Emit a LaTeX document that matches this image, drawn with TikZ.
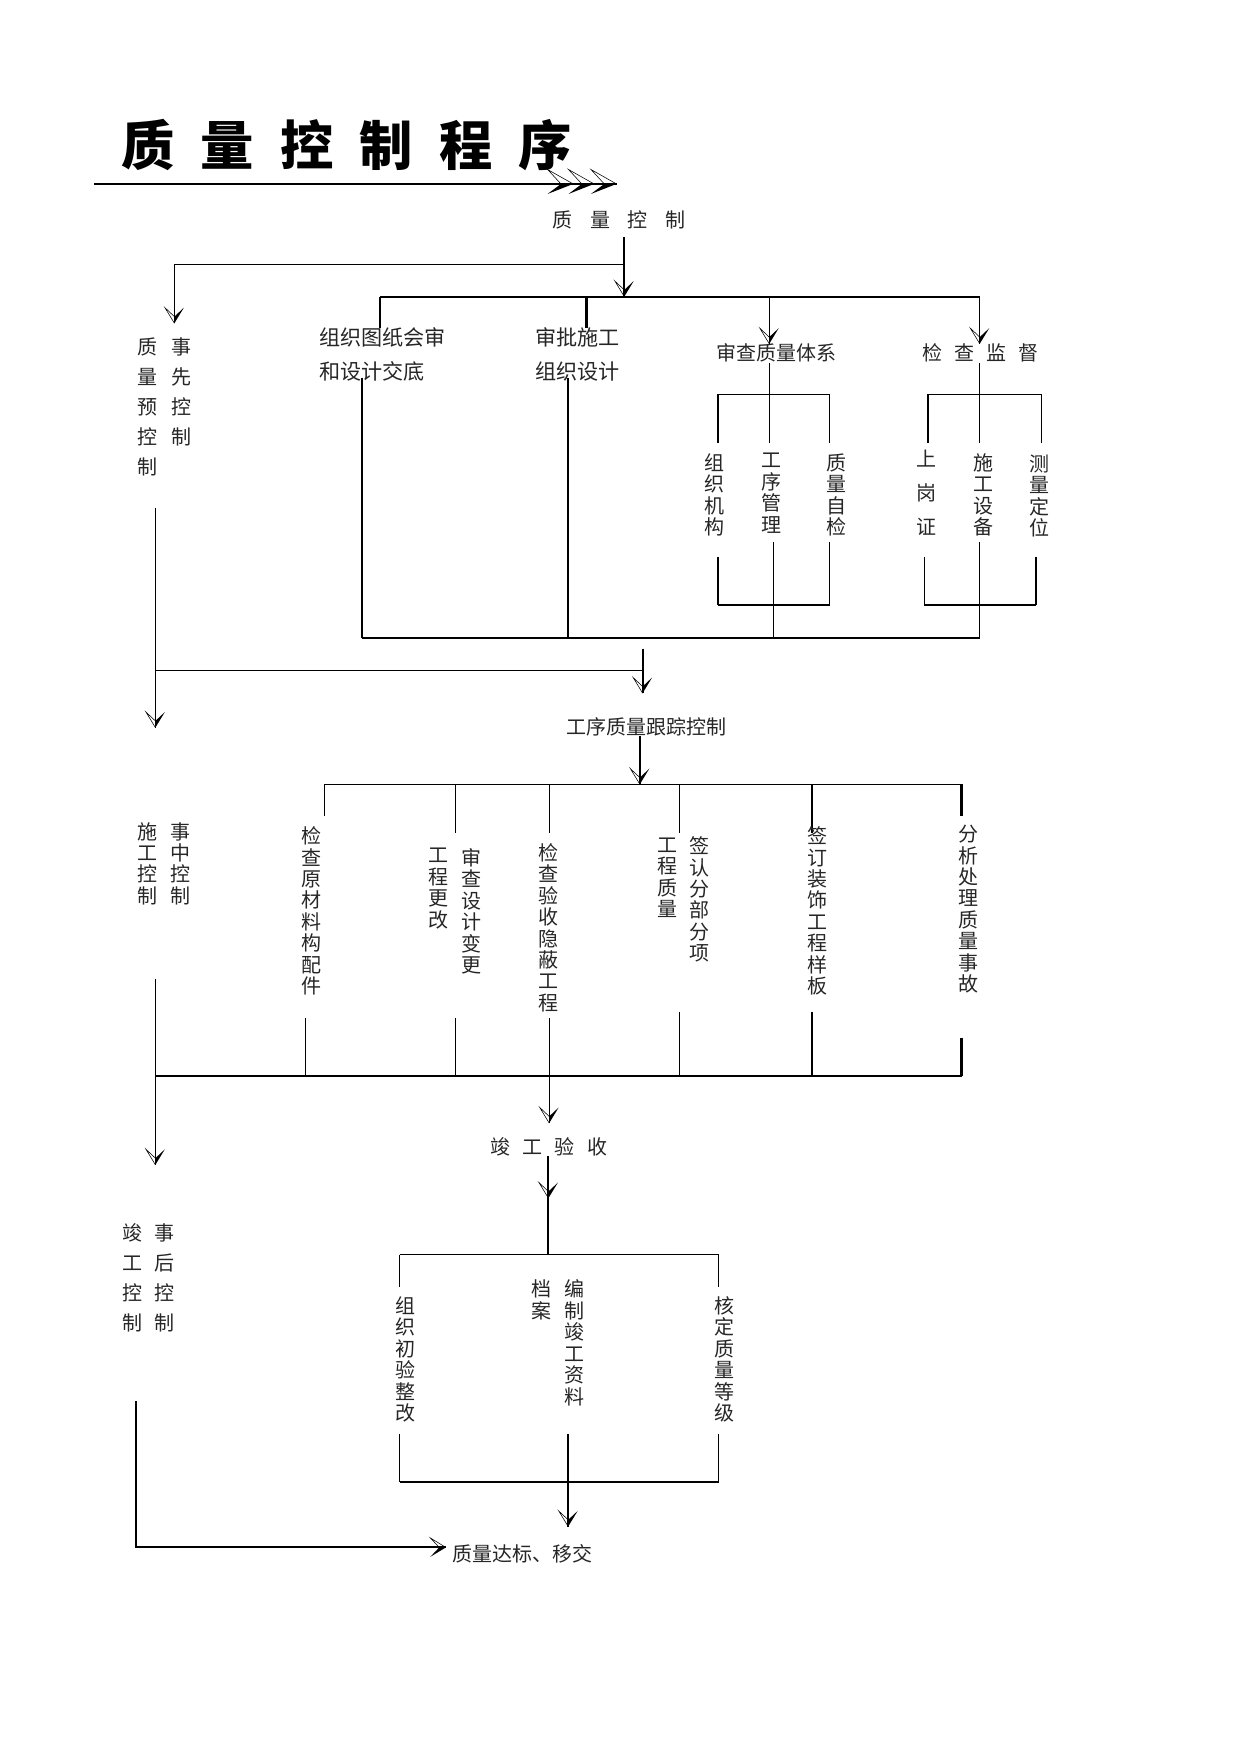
\documentclass[tikz,border=0pt]{standalone}
\usepackage{fontspec}
\usetikzlibrary{decorations.markings}
\newfontfamily\song{Noto Sans CJK SC}
\newfontfamily\kai{Noto Sans CJK SC}
\newcommand\ahDown{\fill (0pt,0pt)--(-14pt,8.5pt)--(-6pt,0pt)--cycle;
      \draw[line width=0.5pt,line join=miter] (0pt,0pt)--(-14pt,-8.5pt)--(-6pt,0pt);}
\newcommand\ahRight{\fill (0pt,0pt)--(-14pt,-8.5pt)--(-6pt,0pt)--cycle;
      \draw[line width=0.5pt,line join=miter] (0pt,0pt)--(-14pt,8.5pt)--(-6pt,0pt);}
\newcommand\ahBig{\fill (0pt,0pt)--(-23pt,-9pt)--(-11pt,0pt)--cycle;
      \draw[line width=0.5pt,line join=miter] (0pt,0pt)--(-23pt,13pt)--(-11pt,0pt);}
\tikzset{
  lnA/.style={line width=1.1pt},
  lnB/.style={line width=1.9pt},
  harr/.style={postaction={decorate,decoration={markings,mark=at position 1 with {\ahDown}}}},
  harrR/.style={postaction={decorate,decoration={markings,mark=at position 1 with {\ahRight}}}},
  titlearr/.style={postaction={decorate,decoration={markings,
      mark=at position 0.917 with {\ahBig},
      mark=at position 0.957 with {\ahBig},
      mark=at position 1 with {\ahBig}}}},
  txt/.style={inner sep=0pt, text=black!85, font=\song\fontsize{18}{19.3}\selectfont},
  htxt/.style={txt, anchor=west},
  vtxt/.style={txt, align=center, anchor=north},
  ltxt/.style={inner sep=0pt, text=black!85, anchor=north, align=center, font=\song\fontsize{18}{27}\selectfont},
  twoline/.style={inner sep=0pt, text=black!85, anchor=north west, align=left, font=\song\fontsize{19}{30.5}\selectfont},
}
\begin{document}
\begin{tikzpicture}[x=1pt,y=-1pt]
\useasboundingbox (0,0) rectangle (1117,1579);

% ---------- title ----------
\node[inner sep=0pt, font=\kai\bfseries\fontsize{48}{48}\selectfont] (title) at (312,131)
  {质\hspace{23.5pt}量\hspace{23.5pt}控\hspace{23.5pt}制\hspace{23.5pt}程\hspace{23.5pt}序};
\coordinate (tl0) at (85,165.6);
\coordinate (tl1) at (555,165.6);
\draw[lnB, titlearr] (tl0) -- (tl1);

% ---------- section 1 ----------
\node[htxt] (qc) at (497,198) {质\hspace{16pt}量\hspace{16pt}控\hspace{16pt}制};
\coordinate (qcs) at (562,213);
\coordinate (b1m) at (562,267);
\coordinate (lj) at (562,238);
\coordinate (lc) at (157,238);
\coordinate (pretip) at (157,291);
\draw[lnB,harr] (qcs) -- (b1m);
\draw[lnA,harr] (lj) -- (lc) -- (pretip);

\node[ltxt] (pre) at (133,304) {质\\量\\预\\控\\制};
\node[ltxt] (pre2) at (163,304) {事\\先\\控\\制};

\coordinate (b1l) at (342,267);
\coordinate (b1b) at (528,267);
\coordinate (b1c) at (692.5,267);
\coordinate (b1r) at (882,267);
\draw[lnB] (b1l) -- (b1r);

\node[twoline] (t1) at (287,295) {组织图纸会审\\和设计交底};
\node[twoline] (t2) at (481.5,295) {审批施工\\组织设计};
\node[htxt] (t3) at (645,318) {审查质量体系};
\node[htxt] (t4) at (830,318) {检\hspace{11pt}查\hspace{11pt}监\hspace{11pt}督};

\draw[lnA] (b1l) -- (b1l |- t1.north);
\draw[lnB] (b1b) -- (b1b |- t2.north);
\draw[lnA,harr] (b1c) -- (b1c |- t3.north);
\draw[lnA,harr] (b1r) -- (b1r |- t4.north);

% long lines from t1, t2
\coordinate (t1a) at (325.5,340);
\coordinate (t1b) at (325.5,574);
\coordinate (t2a) at (511,340);
\coordinate (t2b) at (511,574);
\coordinate (b2r) at (882,574);
\draw[lnB] (t1a) -- (t1b);
\draw[lnB] (t2a) -- (t2b);
\draw[lnB] (t1b) -- (b2r);

% quality system subtree
\coordinate (sb1) at (646,355);
\coordinate (sb2) at (692.5,355);
\coordinate (sb3) at (747,355);
\coordinate (sb1e) at (646,398.5);
\coordinate (sb2e) at (692.5,398.5);
\coordinate (sb3e) at (747,398.5);
\draw[lnA] (sb1) -- (sb3);
\draw[lnB] (sb1) -- (sb1e);
\draw[lnA] (t3.south -| sb2) -- (sb2e);
\draw[lnA] (sb3) -- (sb3e);
\node[vtxt] (s1) at (643.6,408) {组\\织\\机\\构};
\node[vtxt] (s2) at (694.6,408) {工\\序\\管\\理};
\node[vtxt] (s3) at (753,408) {质\\量\\自\\检};
\coordinate (sd1s) at (646,501);
\coordinate (sd1) at (646,544.6);
\coordinate (sd3s) at (747,487.5);
\coordinate (sd3) at (747,544.6);
\coordinate (sd2s) at (696.6,487.5);
\coordinate (sd2) at (696.6,574);
\draw[lnB] (sd1s) -- (sd1);
\draw[lnA] (sd3s) -- (sd3);
\draw[lnA] (sd1) -- (sd3);
\draw[lnA] (sd2s) -- (sd2);

% supervision subtree
\coordinate (ub1) at (835.6,355);
\coordinate (ub2) at (882,355);
\coordinate (ub3) at (937.5,355);
\coordinate (ub1e) at (835.6,398.5);
\coordinate (ub2e) at (882,398.5);
\coordinate (ub3e) at (937.5,398.5);
\draw[lnA] (ub1) -- (ub3);
\draw[lnB] (ub1) -- (ub1e);
\draw[lnA] (t4.south -| ub2) -- (ub2e);
\draw[lnA] (ub3) -- (ub3e);
\node[vtxt, font=\song\fontsize{18}{30.5}\selectfont] (u1) at (834,405) {上\\岗\\证};
\node[vtxt] (u2) at (885.7,408) {施\\工\\设\\备};
\node[vtxt] (u3) at (936,409) {测\\量\\定\\位};
\coordinate (ud1s) at (832,501);
\coordinate (ud1) at (832,544.6);
\coordinate (ud3s) at (933,501);
\coordinate (ud3) at (933,544.6);
\coordinate (ud2s) at (882,487.5);
\draw[lnA] (ud1s) -- (ud1);
\draw[lnB] (ud3s) -- (ud3);
\draw[lnA] (ud1) -- (ud3);
\draw[lnA] (ud2s) -- (b2r);

% ---------- section 2 ----------
\coordinate (L1a) at (139.9,457);
\coordinate (L1j) at (139.9,603.7);
\coordinate (L1b) at (139.9,655);
\coordinate (pj) at (578.5,603.7);
\coordinate (pa) at (578.5,584);
\coordinate (pt) at (578.5,624);
\draw[lnA,harr] (L1a) -- (L1b);
\draw[lnA] (L1j) -- (pj);
\draw[lnB,harr] (pa) -- (pt);

\node[htxt] (proc) at (509.5,654) {工序质量跟踪控制};
\coordinate (pb) at (576,706);
\draw[lnB,harr] (proc.south -| pb) -- (pb);

\node[vtxt] (mid1) at (132.8,740) {施\\工\\控\\制};
\node[vtxt] (mid2) at (162.4,740) {事\\中\\控\\制};

\coordinate (c1) at (291.9,706);
\coordinate (c2) at (409.9,706);
\coordinate (c3) at (494.4,706);
\coordinate (c4) at (612,706);
\coordinate (c5) at (730.6,706);
\coordinate (c6) at (865.6,706);
\draw[lnA] (c1) -- (c6);
\draw[lnA] (c1) -- (291.9,735) coordinate (c1e);
\draw[lnA] (c2) -- (409.9,749.5) coordinate (c2e);
\draw[lnA] (c3) -- (494.4,749.5) coordinate (c3e);
\draw[lnA] (c4) -- (612,749.5) coordinate (c4e);
\draw[lnB] (c5) -- (730.6,749.5) coordinate (c5e);
\draw[lnB] (c6) -- (865.6,735) coordinate (c6e);

\node[vtxt] (m1) at (280.6,744) {检\\查\\原\\材\\料\\构\\配\\件};
\node[vtxt] (m2) at (394.7,763.5) {工\\程\\更\\改};
\node[vtxt] (m3) at (424.3,763.5) {审\\查\\设\\计\\变\\更};
\node[vtxt] (m4) at (493.4,759) {检\\查\\验\\收\\隐\\蔽\\工\\程};
\node[vtxt] (m5) at (600.6,754) {工\\程\\质\\量};
\node[vtxt] (m6) at (629.5,753) {签\\认\\分\\部\\分\\项};
\node[vtxt] (m7) at (736,744) {签\\订\\装\\饰\\工\\程\\样\\板};
\node[vtxt] (m8) at (871.6,742.6) {分\\析\\处\\理\\质\\量\\事\\故};

\coordinate (e1s) at (274.9,916.6);
\coordinate (e1) at (274.9,969);
\coordinate (e2s) at (409.9,916.6);
\coordinate (e2) at (409.9,969);
\coordinate (e3s) at (494.4,916.6);
\coordinate (e3t) at (494.4,1011);
\coordinate (e4s) at (612,910.6);
\coordinate (e4) at (612,969);
\coordinate (e5s) at (730.6,910.6);
\coordinate (e5) at (730.6,969);
\coordinate (e6s) at (865.6,934);
\coordinate (e6) at (865.6,969);
\coordinate (e0) at (139.9,969);
\draw[lnA] (e1s) -- (e1);
\draw[lnA] (e2s) -- (e2);
\draw[lnA,harr] (e3s) -- (e3t);
\draw[lnA] (e4s) -- (e4);
\draw[lnB] (e5s) -- (e5);
\draw[lnB] (e6s) -- (e6);
\draw[lnB] (e0) -- (e6);

\coordinate (L2a) at (139.9,881);
\coordinate (L2b) at (139.9,1048.6);
\draw[lnA,harr] (L2a) -- (L2b);

% ---------- section 3 ----------
\node[htxt] (done) at (441.3,1032) {竣\hspace{11pt}工\hspace{11pt}验\hspace{11pt}收};
\coordinate (dmid) at (493.7,1078.6);
\coordinate (dbar) at (493.7,1129.6);
\draw[lnB,harr] (done.south -| dmid) -- (dmid);
\draw[lnB] (dmid) -- (dbar);

\coordinate (g1) at (359.8,1129.6);
\coordinate (g4) at (646.9,1129.6);
\coordinate (g1e) at (359.8,1158.4);
\coordinate (g4e) at (646.9,1158.4);
\draw[lnA] (g1) -- (g4);
\draw[lnA] (g1) -- (g1e);
\draw[lnA] (g4) -- (g4e);

\node[vtxt] (f1) at (365.4,1167) {组\\织\\初\\验\\整\\改};
\node[vtxt] (f2) at (487.6,1152) {档\\案};
\node[vtxt] (f3) at (517.2,1152) {编\\制\\竣\\工\\资\\料};
\node[vtxt] (f4) at (651.9,1167) {核\\定\\质\\量\\等\\级};

\coordinate (h1s) at (359.8,1290.7);
\coordinate (h1) at (359.8,1334.5);
\coordinate (h4s) at (646.9,1290.7);
\coordinate (h4) at (646.9,1334.5);
\coordinate (h2s) at (511.5,1290.7);
\coordinate (h2t) at (511.5,1374.2);
\draw[lnA] (h1s) -- (h1);
\draw[lnA] (h4s) -- (h4);
\draw[lnB] (h1) -- (h4);
\draw[lnB,harr] (h2s) -- (h2t);

\node[ltxt] (post1) at (118.9,1101) {竣\\工\\控\\制};
\node[ltxt] (post2) at (148.5,1101) {事\\后\\控\\制};

\node[htxt] (final) at (407.2,1399) {质量达标、移交};
\coordinate (pl0) at (122.8,1261.6);
\coordinate (pl1) at (122.8,1393);
\coordinate (fin) at (401.4,1393);
\draw[lnB,harrR] (pl0) -- (pl1) -- (fin);
\end{tikzpicture}
\end{document}
